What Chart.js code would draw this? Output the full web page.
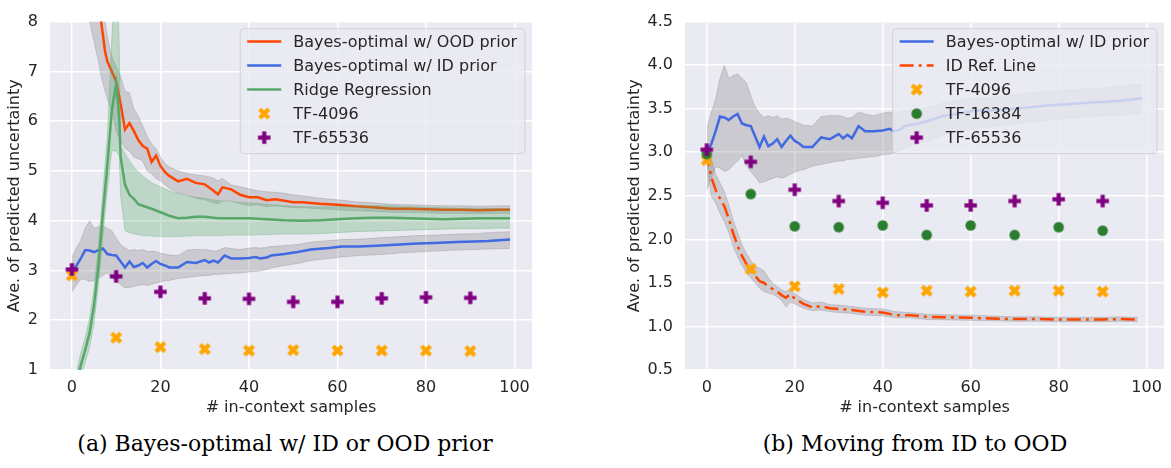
<!DOCTYPE html>
<html lang="en">
<head>
<meta charset="UTF-8">
<title>Predicted uncertainty vs in-context samples</title>
<script src="https://cdn.jsdelivr.net/npm/chart.js/dist/chart.umd.min.js"></script>
<style>
  body { margin: 0; background: #fff; width: 1171px; height: 468px; position: relative; overflow: hidden; }
  .panel { position: absolute; top: 0; }
  .panel canvas { display: block; }
  .caption { position: absolute; top: 431px; width: 600px; text-align: center; font: 22px "DejaVu Serif", serif; line-height: 26px; color: #000; }
</style>
</head>
<body>
<div class="panel" style="left:0"><canvas id="left" width="545" height="420"></canvas></div>
<div class="panel" style="left:620px"><canvas id="right" width="551" height="420"></canvas></div>
<div class="caption" style="left:-15px">(a) Bayes-optimal w/ ID or OOD prior</div>
<div class="caption" style="left:615px">(b) Moving from ID to OOD</div>

<script>
// ---- data ----
const xTicks = [0, 20, 40, 60, 80, 100];
const leftYTicks = [1, 2, 3, 4, 5, 6, 7, 8];
const rightYTicks = [0.5, 1.0, 1.5, 2.0, 2.5, 3.0, 3.5, 4.0, 4.5];

// Bayes-optimal w/ OOD prior (left)
const oodX  = [0, 2, 4, 5, 6, 6.6, 7.5, 8, 9, 10, 11, 12, 13, 14, 15, 16, 17, 18, 19, 20, 21, 22, 24, 26, 28, 30, 32, 33, 34, 36, 38, 40, 42, 44, 46, 48, 50, 52, 56, 60, 64, 68, 72, 76, 80, 84, 88, 92, 96, 99];
const oodY  = [14, 11, 9.3, 8.7, 8.3, 8.0, 7.4, 7.2, 7.0, 6.8, 6.35, 5.83, 5.96, 5.8, 5.62, 5.5, 5.45, 5.18, 5.31, 5.1, 4.98, 4.9, 4.79, 4.84, 4.76, 4.73, 4.6, 4.53, 4.67, 4.63, 4.52, 4.47, 4.47, 4.41, 4.43, 4.40, 4.37, 4.37, 4.34, 4.32, 4.29, 4.27, 4.24, 4.24, 4.23, 4.22, 4.22, 4.21, 4.22, 4.22];
const oodLo = [12, 9.5, 8.0, 7.6, 7.2, 6.9, 6.6, 6.45, 6.2, 5.8, 5.6, 5.45, 5.4, 5.28, 5.24, 5.2, 5.0, 4.95, 4.85, 4.8, 4.72, 4.65, 4.56, 4.52, 4.45, 4.42, 4.36, 4.34, 4.4, 4.4, 4.34, 4.3, 4.32, 4.28, 4.3, 4.28, 4.26, 4.26, 4.24, 4.22, 4.2, 4.19, 4.17, 4.17, 4.16, 4.15, 4.15, 4.14, 4.15, 4.15];
const oodHi = [16, 12.5, 10.5, 9.8, 9.3, 8.6, 8.0, 7.7, 7.3, 7.1, 6.9, 6.6, 6.57, 6.25, 6.1, 5.9, 5.7, 5.54, 5.45, 5.28, 5.15, 5.08, 5.0, 4.95, 4.92, 4.9, 4.86, 4.8, 4.85, 4.72, 4.68, 4.64, 4.6, 4.58, 4.57, 4.55, 4.52, 4.5, 4.45, 4.42, 4.38, 4.36, 4.33, 4.32, 4.31, 4.3, 4.3, 4.29, 4.3, 4.3];

// Bayes-optimal w/ ID prior (both panels)
const idX  = [0, 1, 2, 3, 4, 5, 6, 7, 8, 9, 10, 11, 12, 13, 14, 15, 16, 17, 18, 19, 20, 21, 22, 24, 26, 28, 30, 31, 32, 33, 34.5, 36, 38, 40, 41.6, 42.5, 44, 45, 48, 51, 54, 58, 61, 65, 70, 74, 78, 82, 87, 91, 94, 99];
const idY  = [3.0, 3.09, 3.24, 3.41, 3.40, 3.37, 3.41, 3.44, 3.33, 3.31, 3.30, 3.18, 3.06, 3.18, 3.07, 3.10, 3.15, 3.06, 3.13, 3.19, 3.13, 3.10, 3.06, 3.06, 3.17, 3.15, 3.21, 3.16, 3.20, 3.16, 3.30, 3.24, 3.24, 3.25, 3.27, 3.24, 3.26, 3.30, 3.33, 3.37, 3.42, 3.45, 3.48, 3.48, 3.50, 3.52, 3.54, 3.55, 3.57, 3.58, 3.59, 3.62];
const idLo = [2.57, 2.7, 2.83, 2.82, 2.78, 2.8, 2.85, 2.9, 2.96, 2.85, 2.78, 2.72, 2.65, 2.66, 2.68, 2.7, 2.72, 2.7, 2.72, 2.75, 2.77, 2.79, 2.8, 2.84, 2.86, 2.88, 2.9, 2.9, 2.92, 2.92, 2.93, 2.94, 2.95, 2.97, 2.98, 2.99, 3.02, 3.05, 3.1, 3.14, 3.2, 3.24, 3.27, 3.3, 3.32, 3.35, 3.37, 3.39, 3.41, 3.42, 3.43, 3.44];
const idHi = [3.27, 3.45, 3.61, 3.85, 4.0, 3.85, 3.88, 3.9, 3.85, 3.80, 3.65, 3.52, 3.45, 3.4, 3.42, 3.4, 3.42, 3.38, 3.39, 3.38, 3.35, 3.33, 3.31, 3.30, 3.41, 3.42, 3.42, 3.41, 3.39, 3.40, 3.46, 3.44, 3.42, 3.45, 3.46, 3.45, 3.46, 3.48, 3.5, 3.52, 3.57, 3.6, 3.62, 3.63, 3.66, 3.68, 3.7, 3.71, 3.73, 3.74, 3.76, 3.78];

// Ridge Regression (left)
const ridgeX  = [0, 1, 2, 3, 4, 5, 6, 7, 8, 9, 10, 10.7, 11, 12, 13, 14, 15, 16, 18, 20, 22, 24, 26, 28, 30, 33, 36, 40, 44, 48, 52, 56, 60, 64, 68, 72, 76, 80, 84, 88, 92, 96, 99];
const ridgeY  = [0.3, 0.7, 1.1, 1.4, 1.75, 2.3, 3.1, 4.15, 5.1, 6.2, 6.75, 6.06, 5.28, 4.72, 4.52, 4.44, 4.33, 4.3, 4.24, 4.17, 4.1, 4.05, 4.06, 4.08, 4.08, 4.05, 4.05, 4.05, 4.03, 4.01, 4.0, 4.01, 4.03, 4.05, 4.06, 4.06, 4.05, 4.04, 4.03, 4.04, 4.05, 4.05, 4.05];
const ridgeLo = [0.1, 0.45, 0.85, 1.15, 1.45, 1.95, 2.7, 3.7, 4.6, 5.4, 5.4, 5.3, 4.5, 3.8, 3.76, 3.73, 3.72, 3.7, 3.69, 3.68, 3.68, 3.68, 3.69, 3.7, 3.7, 3.7, 3.71, 3.71, 3.72, 3.73, 3.73, 3.74, 3.76, 3.78, 3.79, 3.8, 3.81, 3.82, 3.83, 3.84, 3.84, 3.85, 3.85];
const ridgeHi = [0.5, 0.95, 1.35, 1.65, 2.05, 2.65, 3.5, 4.6, 5.7, 7.6, 9.5, 7.5, 5.5, 5.35, 5.2, 5.08, 4.98, 4.9, 4.76, 4.68, 4.6, 4.55, 4.5, 4.47, 4.45, 4.4, 4.38, 4.36, 4.33, 4.3, 4.28, 4.28, 4.28, 4.29, 4.3, 4.3, 4.28, 4.27, 4.26, 4.25, 4.25, 4.24, 4.24];

// ID Ref. Line (right)
const refX  = [0, 1, 2, 3, 4, 5, 6, 7, 8, 9, 10, 11, 12, 13, 14, 15, 16, 17, 18, 19, 20, 22, 24, 26, 28, 30, 33, 36, 40, 43, 46, 50, 55, 60, 65, 70, 75, 80, 85, 90, 94, 98];
const refY  = [3.0, 2.72, 2.57, 2.47, 2.38, 2.24, 2.07, 1.93, 1.81, 1.72, 1.65, 1.58, 1.52, 1.50, 1.46, 1.43, 1.40, 1.36, 1.33, 1.37, 1.32, 1.26, 1.22, 1.23, 1.21, 1.20, 1.19, 1.17, 1.16, 1.13, 1.13, 1.11, 1.105, 1.10, 1.09, 1.085, 1.085, 1.08, 1.08, 1.08, 1.085, 1.08];
const refLo = [2.9, 2.5, 2.42, 2.3, 2.2, 2.08, 1.92, 1.8, 1.7, 1.62, 1.56, 1.5, 1.44, 1.4, 1.38, 1.37, 1.34, 1.3, 1.22, 1.28, 1.26, 1.21, 1.18, 1.19, 1.17, 1.16, 1.15, 1.13, 1.12, 1.1, 1.1, 1.08, 1.075, 1.07, 1.065, 1.06, 1.06, 1.055, 1.055, 1.055, 1.06, 1.055];
const refHi = [3.1, 2.92, 2.75, 2.65, 2.55, 2.4, 2.22, 2.08, 1.94, 1.84, 1.76, 1.68, 1.67, 1.64, 1.56, 1.5, 1.46, 1.42, 1.4, 1.43, 1.38, 1.31, 1.27, 1.28, 1.25, 1.245, 1.23, 1.21, 1.2, 1.17, 1.16, 1.14, 1.135, 1.13, 1.12, 1.11, 1.11, 1.105, 1.105, 1.105, 1.11, 1.105];

// transformer checkpoints
const tfX = [0, 10, 20, 30, 40, 50, 60, 70, 80, 90];
const leftTf4096   = [2.9, 1.65, 1.46, 1.42, 1.39, 1.40, 1.39, 1.39, 1.39, 1.38];
const leftTf65536  = [3.02, 2.88, 2.57, 2.44, 2.43, 2.37, 2.37, 2.44, 2.46, 2.45];
const rightTf4096  = [2.91, 1.66, 1.46, 1.43, 1.39, 1.41, 1.40, 1.41, 1.41, 1.40];
const rightTf16384 = [2.98, 2.52, 2.15, 2.14, 2.16, 2.05, 2.16, 2.05, 2.14, 2.10];
const rightTf65536 = [3.03, 2.89, 2.57, 2.44, 2.42, 2.39, 2.39, 2.44, 2.46, 2.44];

// ---- styling helpers ----
const FONT = 'DejaVu Sans';
const INK = '#262626';
const BAND = 'rgba(128,128,128,0.3)';
const GREEN_BAND = 'rgba(85,168,104,0.3)';

const pts = (xs, ys) => xs.map((x, i) => ({ x: x, y: ys[i] }));

function markerImage(kind, color, size) {
  const c = document.createElement('canvas');
  c.width = c.height = Math.ceil(size) + 2;
  const g = c.getContext('2d');
  g.translate(c.width / 2, c.height / 2);
  g.fillStyle = color;
  if (kind === 'o') {
    g.beginPath();
    g.arc(0, 0, size / 2, 0, Math.PI * 2);
    g.fill();
  } else {
    if (kind === 'X') g.rotate(Math.PI / 4);
    const a = size / 2, b = size / 6;
    g.fillRect(-a, -b, 2 * a, 2 * b);
    g.fillRect(-b, -a, 2 * b, 2 * a);
  }
  return c;
}

const xMark = markerImage('X', '#ffa500', 12.7);
const pMark = markerImage('P', '#800080', 12.5);
const oMark = markerImage('o', '#2a7d2e', 10.5);

function band(xs, lo, hi, fillColor) {
  return [
    { label: '', data: pts(xs, lo), borderColor: fillColor, borderWidth: 1, pointRadius: 0, fill: false },
    { label: '', data: pts(xs, hi), borderColor: fillColor, borderWidth: 1, pointRadius: 0, fill: '-1', backgroundColor: fillColor }
  ];
}

function line(label, xs, ys, color, dash) {
  return { label: label, data: pts(xs, ys), borderColor: color, borderWidth: 2.5, borderDash: dash || [], pointRadius: 0, fill: false };
}

function marks(label, xs, ys, img) {
  return { label: label, data: pts(xs, ys), showLine: false, pointStyle: img, pointRadius: 6, pointHoverRadius: 6 };
}

// later datasets on top, like matplotlib
function stack(list) {
  list.forEach((d, i) => { d.order = list.length - i; d.tension = 0; });
  return list;
}

const plotBg = {
  id: 'plotBg',
  beforeDraw(chart) {
    const { ctx, chartArea: a } = chart;
    ctx.save();
    ctx.fillStyle = '#eaeaf2';
    ctx.fillRect(a.left, a.top, a.width, a.height);
    ctx.restore();
  }
};

// matplotlib-like legend box in the upper right corner
const boxLegend = {
  id: 'boxLegend',
  afterDatasetsDraw(chart) {
    const { ctx, chartArea } = chart;
    const items = chart.data.datasets.filter(d => d.label);
    ctx.save();
    ctx.font = '16px "' + FONT + '"';
    const textW = Math.max(...items.map(d => ctx.measureText(d.label).width));
    const rowH = 24, pad = 7, handle = 34, gap = 12;
    const w = pad + handle + gap + textW + pad + 1;
    const h = 13 + (items.length - 1) * rowH + 16;
    const x0 = chartArea.right - 7 - w, y0 = chartArea.top + 7;
    ctx.beginPath();
    ctx.roundRect(x0, y0, w, h, 4);
    ctx.fillStyle = 'rgba(234,234,242,0.8)';
    ctx.fill();
    ctx.strokeStyle = 'rgba(204,204,204,0.8)';
    ctx.lineWidth = 1;
    ctx.stroke();
    items.forEach((d, i) => {
      const cy = y0 + 13 + i * rowH;
      const hx = x0 + pad;
      if (d.showLine === false) {
        const im = d.pointStyle;
        ctx.drawImage(im, hx + handle / 2 - im.width / 2, cy - im.height / 2);
      } else {
        ctx.strokeStyle = d.borderColor;
        ctx.lineWidth = d.borderWidth;
        ctx.setLineDash(d.borderDash || []);
        ctx.beginPath();
        ctx.moveTo(hx, cy);
        ctx.lineTo(hx + handle, cy);
        ctx.stroke();
        ctx.setLineDash([]);
      }
      ctx.fillStyle = INK;
      ctx.textBaseline = 'middle';
      ctx.fillText(d.label, hx + handle + gap, cy + 1);
    });
    ctx.restore();
  }
};

function axes(yMin, yMax, yTicks, fmt, yWidth) {
  const tickFont = { family: FONT, size: 16 };
  return {
    x: {
      type: 'linear', min: -4.95, max: 103.95,
      afterBuildTicks: s => { s.ticks = xTicks.map(v => ({ value: v })); },
      afterFit: s => { s.height = 50; },
      grid: { color: '#ffffff', lineWidth: 1.5, drawTicks: false },
      border: { display: false },
      ticks: { font: tickFont, color: INK, padding: 8, maxRotation: 0, autoSkip: false },
      title: { display: true, text: '# in-context samples', font: tickFont, color: INK, padding: { top: 0, bottom: 3 } }
    },
    y: {
      type: 'linear', min: yMin, max: yMax,
      afterBuildTicks: s => { s.ticks = yTicks.map(v => ({ value: v })); },
      afterFit: s => { s.width = yWidth; },
      grid: { color: '#ffffff', lineWidth: 1.5, drawTicks: false },
      border: { display: false },
      ticks: { font: tickFont, color: INK, padding: 12, autoSkip: false, callback: fmt },
      title: { display: true, text: 'Ave. of predicted uncertainty', font: tickFont, color: INK, padding: { top: 5, bottom: 0 } }
    }
  };
}

function makeChart(id, datasets, scales, padRight) {
  return new Chart(document.getElementById(id), {
    type: 'line',
    data: { datasets: stack(datasets) },
    options: {
      responsive: false,
      animation: false,
      devicePixelRatio: 1,
      layout: { padding: { top: 10, right: padRight, left: 0, bottom: 0 } },
      plugins: { legend: { display: false }, tooltip: { enabled: false } },
      scales: scales
    },
    plugins: [plotBg, boxLegend]
  });
}

// (a) left panel
makeChart('left', [
  ...band(oodX, oodLo, oodHi, BAND),
  line('Bayes-optimal w/ OOD prior', oodX, oodY, '#ff4500'),
  ...band(idX, idLo, idHi, BAND),
  line('Bayes-optimal w/ ID prior', idX, idY, '#4169e1'),
  ...band(ridgeX, ridgeLo, ridgeHi, GREEN_BAND),
  line('Ridge Regression', ridgeX, ridgeY, '#55a868'),
  marks('TF-4096', tfX, leftTf4096, xMark),
  marks('TF-65536', tfX, leftTf65536, pMark)
], axes(1, 8, leftYTicks, v => String(v), 50), 13);

// (b) right panel
makeChart('right', [
  ...band(idX, idLo, idHi, BAND),
  line('Bayes-optimal w/ ID prior', idX, idY, '#4169e1'),
  ...band(refX, refLo, refHi, BAND),
  line('ID Ref. Line', refX, refY, '#ff4500', [14, 5, 3, 5]),
  marks('TF-4096', tfX, rightTf4096, xMark),
  marks('TF-16384', tfX, rightTf16384, oMark),
  marks('TF-65536', tfX, rightTf65536, pMark)
], axes(0.5, 4.5, rightYTicks, v => v.toFixed(1), 65), 4);
</script>
</body>
</html>
